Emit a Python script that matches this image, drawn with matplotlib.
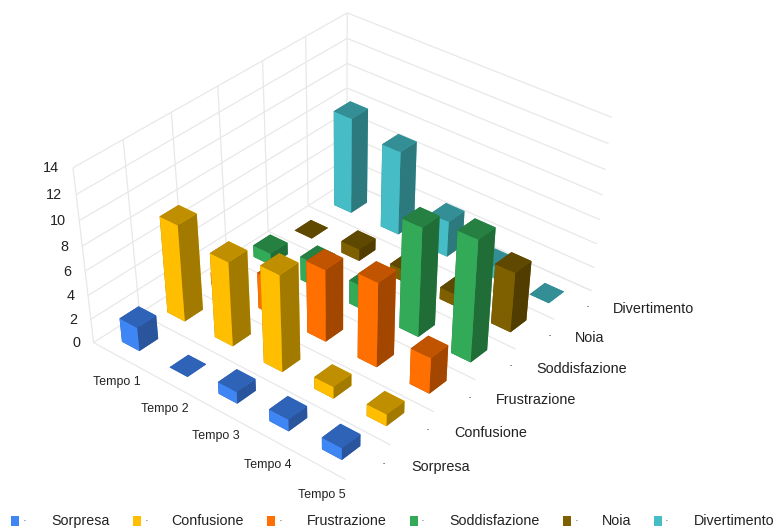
import numpy as np
import matplotlib
matplotlib.use("Agg")
import matplotlib.pyplot as plt
from matplotlib.patches import Rectangle
from mpl_toolkits.mplot3d.art3d import Line3DCollection

plt.rcParams['font.family'] = ['Liberation Sans', 'DejaVu Sans']

tempi = ['Tempo 1', 'Tempo 2', 'Tempo 3', 'Tempo 4', 'Tempo 5']
categorie = ['Sorpresa', 'Confusione', 'Frustrazione', 'Soddisfazione', 'Noia', 'Divertimento']
z_ticks = [0, 2, 4, 6, 8, 10, 12, 14]

sorpresa = [2, 0, 1, 1, 1]
confusione = [8, 7, 8, 1, 1]
frustrazione = [1, 3, 6, 7, 3]
soddisfazione = [1, 2, 2, 9, 10]
noia = [0, 1, 1, 1, 5]
divertimento = [8, 7, 3, 1, 0]
valori = [sorpresa, confusione, frustrazione, soddisfazione, noia, divertimento]

# front, top, side shade for each series
colori = [
    ('#3f86f5', '#2f63b8', '#2a549c'),
    ('#ffbf00', '#bf8f00', '#a37a00'),
    ('#ff7000', '#c05400', '#a34700'),
    ('#33aa58', '#268042', '#206d38'),
    ('#7f6000', '#5f4800', '#513d00'),
    ('#46bdc6', '#348e95', '#2c797e'),
]
griglia = '#e8e8e8'

# box corners (tempo, categoria, valore) and where they land on the canvas
angoli_box = [(0, 0, 0), (0, 0, 14), (0, 6, 0), (0, 6, 14),
              (5, 6, 0), (5, 6, 14), (5, 0, 0), (5, 1, 0)]
angoli_px = [(93.3, 342), (73.3, 168), (347, 182), (347, 12.3),
             (591.7, 290), (611.7, 117.7), (346, 480), (390, 445)]

W, H = 774, 530


def fit_camera(box_pts, px_pts):
    # plain DLT, gives the 3x4 matrix from box coordinates to canvas pixels
    rows = []
    for (x, y, z), (u, v) in zip(box_pts, px_pts):
        v = H - v
        rows.append([x, y, z, 1, 0, 0, 0, 0, -u * x, -u * y, -u * z, -u])
        rows.append([0, 0, 0, 0, x, y, z, 1, -v * x, -v * y, -v * z, -v])
    _, _, vt = np.linalg.svd(np.array(rows))
    cam = vt[-1].reshape(3, 4)
    if cam[2] @ np.array([2.5, 3, 7, 1]) < 0:
        cam = -cam
    return cam


fig = plt.figure(figsize=(W / 100, H / 100), dpi=100)
ax = fig.add_axes([0, 0, 1, 1], projection='3d', computed_zorder=False)
ax.set_xlim(0, 5)
ax.set_ylim(0, 6)
ax.set_zlim(0, 14)
ax.set_axis_off()
ax.apply_aspect()

# the chart uses an off-centre camera, so replace the view matrix
cam = fit_camera(angoli_box, angoli_px)
A = ax.transData.inverted().get_matrix()
cam2d = A @ cam
scala = np.linalg.norm(cam2d[2, :3])
depth = np.array([-0.5, 0.5, -0.3, 0.0]) * scala
M = np.vstack([cam2d[0], cam2d[1], depth, cam2d[2]])
ax.get_proj = lambda: M

n_t = len(tempi)
n_c = len(categorie)

# walls and floor
segmenti = []
for z in z_ticks:
    segmenti.append([(0, 0, z), (0, n_c, z)])
    segmenti.append([(0, n_c, z), (n_t, n_c, z)])
for y in range(n_c + 1):
    segmenti.append([(0, y, 0), (0, y, 14)])
    segmenti.append([(0, y, 0), (n_t, y, 0)])
griglia_3d = Line3DCollection(segmenti, colors=griglia, linewidths=0.9, zorder=1, clip_on=False)
ax.add_collection3d(griglia_3d, autolim=False)

# bars back to front so nearer ones cover the far ones
larg_x = 0.37
larg_y = 0.41
zo = 2
for j in range(n_c - 1, -1, -1):
    front, top, side = colori[j]
    for i in range(n_t):
        ax.bar3d(i + 0.5 - larg_x / 2, j + 0.5 - larg_y / 2, 0,
                 larg_x, larg_y, valori[j][i],
                 color=[top, top, front, front, side, side],
                 shade=False, zorder=zo, clip_on=False)
        zo += 1

for z in z_ticks:
    ax.text(-0.14, -0.14, z, str(z), fontsize=10.4, color='#222222', ha='right', va='center')
for i, t in enumerate(tempi):
    ax.text(i + 0.96, -0.47, 0, t, fontsize=8.9, color='#222222', ha='center', va='center')
for j, c in enumerate(categorie):
    ax.text(n_t + 0.2, j + 0.6, 0, '·', fontsize=9, color='#222222', ha='center', va='center')
    ax.text(n_t + 0.53, j + 0.8, 0, c, fontsize=10.4, color='#222222', ha='left', va='center')

# legend row along the bottom edge
legenda_x = [11, 133, 267, 410, 563, 654]
punti_x = [25, 146, 280, 423, 576, 667]
testi_x = [51, 171, 307, 449, 602, 694]
for j, c in enumerate(categorie):
    fig.add_artist(Rectangle((legenda_x[j] / W, (H - 526) / H), 8 / W, 10 / H,
                             transform=fig.transFigure, color=colori[j][0], lw=0))
    fig.text(punti_x[j] / W, (H - 521) / H, '·', fontsize=8, color='#444444', ha='center', va='center')
    fig.text(testi_x[j] / W, (H - 521) / H, c, fontsize=10.3, color='#222222', ha='left', va='center')

fig.savefig('out.png', dpi=100)
